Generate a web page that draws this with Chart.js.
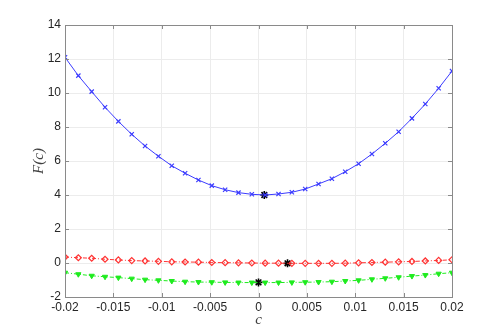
<!DOCTYPE html>
<html>
<head>
<meta charset="utf-8">
<script src="https://cdn.jsdelivr.net/npm/chart.js@4"></script>
<style>
  html, body { margin: 0; padding: 0; background: #fff; }
  canvas { display: block; }
</style>
</head>
<body>
<canvas id="myChart" width="500" height="334"></canvas>
<script>
// sample points in c
const cValues = [-0.02, -0.018621, -0.017241, -0.015862, -0.014483, -0.013103, -0.011724, -0.010345,
    -0.008966, -0.007586, -0.006207, -0.004828, -0.003448, -0.002069, -0.00069, 0.00069, 0.002069,
    0.003448, 0.004828, 0.006207, 0.007586, 0.008966, 0.010345, 0.011724, 0.013103, 0.014483,
    0.015862, 0.017241, 0.018621, 0.02];
const blueValues = [12.1, 11.02, 10.08, 9.16, 8.33, 7.57, 6.88, 6.28, 5.72, 5.28, 4.88, 4.55, 4.31, 4.14, 4.04,
    4.0, 4.06, 4.16, 4.35, 4.65, 4.96, 5.37, 5.84, 6.41, 7.04, 7.72, 8.51, 9.35, 10.28, 11.29];
const redValues = [0.35, 0.31, 0.28, 0.22, 0.18, 0.14, 0.12, 0.10, 0.07, 0.06, 0.05, 0.03, 0.02, 0.01, 0.0,
    -0.01, -0.01, -0.02, -0.02, -0.02, -0.02, -0.01, 0.01, 0.03, 0.05, 0.07, 0.09, 0.12, 0.15, 0.19];
const greenValues = [-0.57, -0.66, -0.75, -0.81, -0.86, -0.92, -0.98, -1.02, -1.06, -1.10, -1.12, -1.13, -1.14,
    -1.15, -1.15, -1.15, -1.15, -1.14, -1.13, -1.12, -1.10, -1.06, -1.02, -0.96, -0.90, -0.84, -0.77, -0.71, -0.63, -0.57];
// minima (black stars)
const minC = [0.0006, 0.003, 0.0];
const minF = [4.0, -0.02, -1.14];

const xTicks = [-0.02, -0.015, -0.01, -0.005, 0, 0.005, 0.01, 0.015, 0.02];
const xTickLabels = ['-0.02', '-0.015', '-0.01', '-0.005', '0', '0.005', '0.01', '0.015', '0.02'];
const yTicks = [-2, 0, 2, 4, 6, 8, 10, 12, 14];
const yTickLabels = ['-2', '0', '2', '4', '6', '8', '10', '12', '14'];

const toPoints = (xs, ys) => xs.map((x, i) => ({ x: x, y: ys[i] }));

const tickFont = { family: '"Liberation Sans", Arial, sans-serif', size: 12 };

// box + inward ticks + axis titles, matlab style
const boxPlugin = {
    id: 'boxPlugin',
    afterDraw(chart) {
        const ctx = chart.ctx;
        const a = chart.chartArea;
        const xs = chart.scales.x;
        const ys = chart.scales.y;
        ctx.save();
        ctx.strokeStyle = '#8a8a8a';
        ctx.lineWidth = 1;
        ctx.strokeRect(Math.round(a.left) + 0.5, Math.round(a.top) + 0.5,
            Math.round(a.right - a.left), Math.round(a.bottom - a.top));
        ctx.beginPath();
        xTicks.forEach(v => {
            const px = Math.round(xs.getPixelForValue(v)) + 0.5;
            ctx.moveTo(px, a.bottom); ctx.lineTo(px, a.bottom - 4);
            ctx.moveTo(px, a.top); ctx.lineTo(px, a.top + 4);
        });
        yTicks.forEach(v => {
            const py = Math.round(ys.getPixelForValue(v)) + 0.5;
            ctx.moveTo(a.left, py); ctx.lineTo(a.left + 4, py);
            ctx.moveTo(a.right, py); ctx.lineTo(a.right - 4, py);
        });
        ctx.stroke();

        ctx.fillStyle = '#404040';
        ctx.font = 'italic 15px "Liberation Serif", "Times New Roman", serif';
        ctx.textAlign = 'center';
        ctx.textBaseline = 'middle';
        ctx.fillText('c', (a.left + a.right) / 2, 320);
        ctx.translate(39, (a.top + a.bottom) / 2);
        ctx.rotate(-Math.PI / 2);
        ctx.fillText('F(c)', 0, 0);
        ctx.restore();
    }
};

const ctx = document.getElementById('myChart').getContext('2d');
const myChart = new Chart(ctx, {
    type: 'scatter',
    data: {
        datasets: [{
            label: 'blue',
            data: toPoints(cValues, blueValues),
            showLine: true,
            borderColor: 'rgb(60, 60, 255)',
            backgroundColor: 'rgb(60, 60, 255)',
            borderWidth: 1,
            pointStyle: 'crossRot',
            pointRadius: 3,
            pointBorderWidth: 1.2
        },
        {
            label: 'red',
            data: toPoints(cValues, redValues),
            showLine: true,
            borderColor: 'rgb(255, 50, 50)',
            backgroundColor: 'rgba(0, 0, 0, 0)',
            borderWidth: 1,
            borderDash: [4, 2, 1, 2],
            pointStyle: 'rectRot',
            pointRadius: 3,
            pointBorderWidth: 1.2
        },
        {
            label: 'green',
            data: toPoints(cValues, greenValues),
            showLine: true,
            borderColor: 'rgb(30, 235, 30)',
            backgroundColor: 'rgb(30, 235, 30)',
            borderWidth: 1,
            borderDash: [4, 2, 1, 2],
            pointStyle: 'triangle',
            rotation: 180,
            pointRadius: 3,
            pointBorderWidth: 1
        },
        {
            label: 'min',
            data: toPoints(minC, minF),
            showLine: false,
            borderColor: '#000',
            backgroundColor: '#000',
            pointStyle: 'star',
            pointRadius: 4,
            pointBorderWidth: 1.6
        }]
    },
    options: {
        responsive: false,
        animation: false,
        devicePixelRatio: 1,
        layout: { padding: { left: 0, top: 25, right: 48, bottom: 0 } },
        plugins: {
            legend: { display: false },
            tooltip: { enabled: false }
        },
        scales: {
            x: {
                type: 'linear',
                min: -0.02,
                max: 0.02,
                afterBuildTicks: scale => { scale.ticks = xTicks.map(v => ({ value: v })); },
                afterFit: scale => { scale.height = 37; },
                ticks: {
                    callback: (v, i) => xTickLabels[i],
                    font: tickFont,
                    color: '#262626',
                    padding: 3,
                    maxRotation: 0
                },
                grid: { color: '#ececec', drawTicks: false },
                border: { display: false }
            },
            y: {
                type: 'linear',
                min: -2,
                max: 14,
                afterBuildTicks: scale => { scale.ticks = yTicks.map(v => ({ value: v })); },
                afterFit: scale => { scale.width = 65; },
                ticks: {
                    callback: (v, i) => yTickLabels[i],
                    font: tickFont,
                    color: '#262626',
                    padding: 4
                },
                grid: { color: '#ececec', drawTicks: false },
                border: { display: false }
            }
        }
    },
    plugins: [boxPlugin]
});
</script>
</body>
</html>
